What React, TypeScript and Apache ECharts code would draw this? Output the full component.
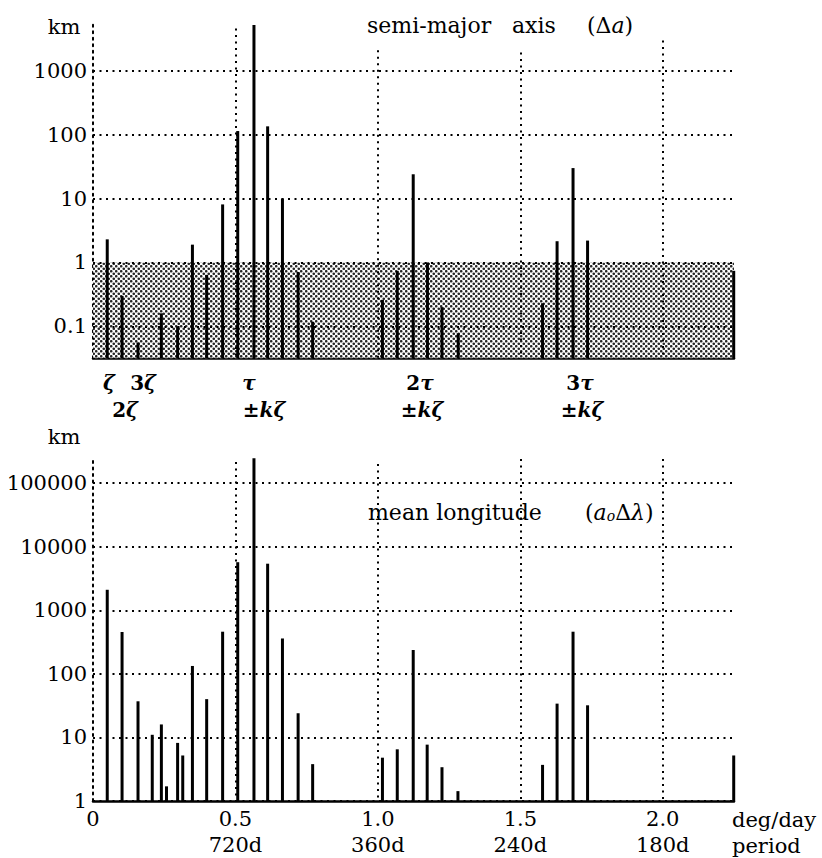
import React, { useEffect, useRef } from "react";
import * as echarts from "echarts";

// ---- data ----
const freqA = [0.050, 0.102, 0.158, 0.240, 0.297, 0.349, 0.399, 0.455, 0.508, 0.565, 0.613, 0.665, 0.720, 0.771, 1.016, 1.068, 1.124, 1.174, 1.225, 1.282, 1.578, 1.629, 1.685, 1.736, 2.249];
const ampA = [2.3, 0.3, 0.056, 0.16, 0.1, 1.9, 0.64, 8.1, 114, 5200, 135, 10, 0.71, 0.118, 0.26, 0.74, 24, 1.0, 0.2, 0.078, 0.23, 2.15, 30, 2.2, 0.74];

const freqL = [0.050, 0.102, 0.158, 0.208, 0.240, 0.258, 0.297, 0.315, 0.349, 0.399, 0.455, 0.508, 0.565, 0.613, 0.665, 0.720, 0.771, 1.016, 1.068, 1.124, 1.173, 1.225, 1.281, 1.578, 1.629, 1.685, 1.736, 2.249];
const ampL = [2100, 455, 37, 11, 16, 1.7, 8.2, 5.2, 133, 40, 460, 5700, 245000, 5400, 360, 24, 3.8, 4.8, 6.5, 237, 7.7, 3.4, 1.43, 3.7, 34, 460, 32, 5.2];

const yDecadesA = [0.1, 1, 10, 100, 1000];
const yDecadesL = [1, 10, 100, 1000, 10000, 100000];
const xGridVals = [0.5, 1.0, 1.5, 2.0];
const xGridTopA = [4570, 2100, 1940, 2970];
const xGridTopL = [214000, 200000, 240000, 240000];
const xTicks = [0, 0.5, 1.0, 1.5, 2.0];
const xTickLabels = ["0", "0.5", "1.0", "1.5", "2.0"];
const periodLabels = ["", "720d", "360d", "240d", "180d"];
const shadeTop = 1;

const Y_MIN_A = 0.031623;
const Y_MAX_A = 5300;
const Y_MIN_L = 1;
const Y_MAX_L = 250000;
const X_MAX = 2.25;

const FONT = '"DejaVu Serif", serif';
const DOT: any = [2, 4.5];

function decadeFmt(v: number) {
  const l = Math.log10(v);
  if (Math.abs(l - Math.round(l)) > 1e-6) return "";
  return String(Number(v.toPrecision(6)));
}

function barRender(yMin: number) {
  return (params: any, api: any) => {
    const x = api.value(0);
    const y = api.value(1);
    const top = api.coord([x, y]);
    const base = api.coord([x, yMin]);
    return {
      type: "rect",
      shape: { x: top[0] - 1.5, y: top[1], width: 3, height: base[1] - top[1] },
      style: { fill: "#000" },
    };
  };
}

const patternSvg =
  "<svg xmlns='http://www.w3.org/2000/svg' width='5' height='5'>" +
  "<rect width='5' height='5' fill='#fff'/>" +
  "<circle cx='1.25' cy='1.25' r='1.3' fill='#000'/>" +
  "<circle cx='3.75' cy='3.75' r='1.3' fill='#000'/>" +
  "</svg>";
const patternUrl = "data:image/svg+xml;utf8," + encodeURIComponent(patternSvg);

function gridLines(decades: number[], tops: number[], yMin: number) {
  const d: any[] = decades.map((v) => ({ yAxis: v }));
  xGridVals.forEach((x, i) => {
    d.push([{ coord: [x, tops[i]] }, { coord: [x, yMin] }]);
  });
  return d;
}

export default function App() {
  const ref = useRef<HTMLDivElement>(null);
  useEffect(() => {
    if (!ref.current) return;
    const chart = echarts.init(ref.current, null, { renderer: "svg" });

    const yAxisBase = (min: number, max: number, gi: number) => ({
      type: "log",
      logBase: 10,
      gridIndex: gi,
      min,
      max,
      axisLine: { show: true, onZero: false, lineStyle: { color: "#000", width: 2, type: DOT } },
      axisTick: { show: false },
      splitLine: { show: false },
      axisLabel: {
        formatter: decadeFmt,
        fontFamily: FONT,
        fontSize: 21,
        color: "#000",
        margin: 6,
      },
    });

    const xAxisBase = (gi: number, showLabel: boolean) => ({
      type: "value",
      gridIndex: gi,
      min: 0,
      max: X_MAX,
      interval: 0.5,
      axisLine: { show: true, onZero: false, lineStyle: { color: "#000", width: 2.5 } },
      axisTick: { show: false },
      splitLine: { show: false },
      axisLabel: {
        show: showLabel,
        fontFamily: FONT,
        fontSize: 21,
        color: "#000",
        margin: 5,
        lineHeight: 26,
        formatter: (v: number) => {
          const i = xTicks.findIndex((t) => Math.abs(t - v) < 1e-6);
          if (i < 0) return "";
          return periodLabels[i] ? xTickLabels[i] + "\n" + periodLabels[i] : xTickLabels[i];
        },
      },
    });

    const markLineStyle = {
      silent: true,
      symbol: ["none", "none"],
      label: { show: false },
      lineStyle: { color: "#000", width: 2, type: DOT },
      emphasis: { disabled: true },
      data: [] as any[],
    };

    const txt = (text: string, x: number, y: number, size: number, align = "center", extra: any = {}) => ({
      type: "text",
      x,
      y,
      silent: true,
      style: {
        text,
        fill: "#000",
        font: `${size}px ${FONT}`,
        align,
        verticalAlign: "middle",
        ...extra,
      },
    });

    const mathRich = {
      d: { fontFamily: FONT, fontSize: 20, fontWeight: "bold", color: "#000" },
      g: { fontFamily: FONT, fontSize: 20, fontWeight: "bold", fontStyle: "italic", color: "#000" },
      n: { fontFamily: FONT, fontSize: 22, color: "#000" },
      i: { fontFamily: FONT, fontSize: 22, fontStyle: "italic", color: "#000" },
      s: { fontFamily: FONT, fontSize: 14, fontStyle: "italic", color: "#000", verticalAlign: "bottom", lineHeight: 22 },
    };
    const rt = (text: string, x: number, y: number, align = "center") => ({
      type: "text",
      x,
      y,
      silent: true,
      style: { text, rich: mathRich, align, verticalAlign: "middle" },
    });

    chart.setOption({
      animation: false,
      backgroundColor: "#fff",
      grid: [
        { left: 93, width: 641, top: 24.5, height: 333.8 },
        { left: 93, width: 641, top: 457.8, height: 344.9 },
      ],
      xAxis: [xAxisBase(0, false), xAxisBase(1, true)],
      yAxis: [yAxisBase(Y_MIN_A, Y_MAX_A, 0), yAxisBase(Y_MIN_L, Y_MAX_L, 1)],
      series: [
        {
          type: "line",
          xAxisIndex: 0,
          yAxisIndex: 0,
          data: [],
          z: 1,
          markArea: {
            silent: true,
            itemStyle: {
              color: { image: patternUrl, repeat: "repeat", imageWidth: 5, imageHeight: 5 },
              opacity: 0.85,
            },
            data: [[{ coord: [0, Y_MIN_A] }, { coord: [X_MAX, shadeTop] }]],
          },
        },
        {
          type: "line",
          xAxisIndex: 0,
          yAxisIndex: 0,
          data: [],
          z: 2,
          markLine: { ...markLineStyle, data: gridLines(yDecadesA, xGridTopA, Y_MIN_A) },
        },
        {
          type: "line",
          xAxisIndex: 1,
          yAxisIndex: 1,
          data: [],
          z: 2,
          markLine: { ...markLineStyle, data: gridLines(yDecadesL, xGridTopL, Y_MIN_L) },
        },
        {
          type: "custom",
          xAxisIndex: 0,
          yAxisIndex: 0,
          z: 3,
          silent: true,
          renderItem: barRender(Y_MIN_A),
          data: freqA.map((f, i) => [f, ampA[i]]),
        },
        {
          type: "custom",
          xAxisIndex: 1,
          yAxisIndex: 1,
          z: 3,
          silent: true,
          renderItem: barRender(Y_MIN_L),
          data: freqL.map((f, i) => [f, ampL[i]]),
        },
      ],
      graphic: [
        txt("km", 64, 27, 21),
        txt("km", 64, 437, 21),
        txt("semi-major", 367, 25, 22, "left"),
        txt("axis", 512, 25, 22, "left"),
        rt("{n|(Δ}{i|a}{n|)}", 587, 25, "left"),
        txt("mean longitude", 368, 512, 22, "left"),
        rt("{n|(}{i|a}{s|o}{n|Δ}{i|λ}{n|)}", 585, 512, "left"),
        rt("{g|ζ}", 109, 383),
        rt("{d|3}{g|ζ}", 143, 383),
        rt("{d|2}{g|ζ}", 125, 410),
        rt("{g|τ}", 249, 383),
        rt("{d|±}{g|kζ}", 264, 410),
        rt("{d|2}{g|τ}", 420, 383),
        rt("{d|±}{g|kζ}", 422, 410),
        rt("{d|3}{g|τ}", 580, 383),
        rt("{d|±}{g|kζ}", 582, 410),
        txt("deg/day", 732, 820, 21, "left"),
        txt("period", 732, 846, 21, "left"),
      ],
    });
    return () => chart.dispose();
  }, []);
  return (
    <div
      ref={ref}
      style={{ position: "fixed", left: 0, top: 0, width: 822, height: 858, background: "#fff" }}
    />
  );
}
